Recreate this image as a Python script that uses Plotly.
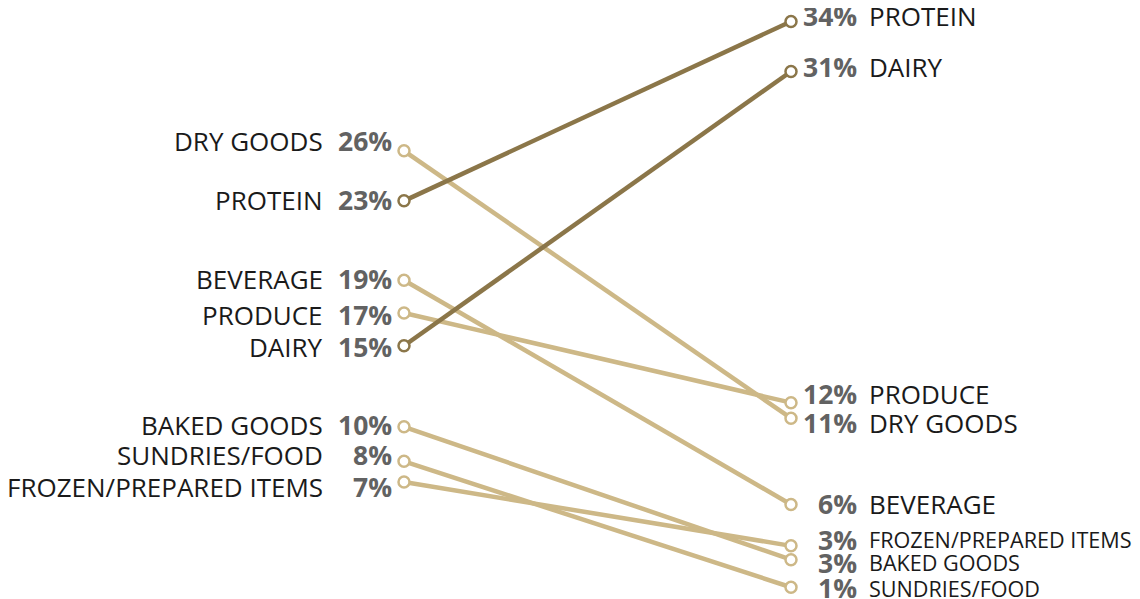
import plotly.graph_objects as go

# ---- data ----
categories = ["DRY GOODS", "PROTEIN", "BEVERAGE", "PRODUCE", "DAIRY",
              "BAKED GOODS", "SUNDRIES/FOOD", "FROZEN/PREPARED ITEMS"]
before_pct = [26.3, 23.4, 18.8, 16.9, 15.0, 10.3, 8.3, 7.1]
after_pct = [10.8, 33.8, 5.8, 11.7, 30.9, 2.6, 1.0, 3.4]
highlight = ["PROTEIN", "DAIRY"]

# ---- styling / layout (pixel offsets for label collision avoidance) ----
DARK = "#8B7649"
LIGHT = "#CDB887"
NAME_COLOR = "#1a1a1a"
PCT_COLOR = "#626262"
FONT = "Open Sans"
left_label_shift = [10, 1, 1, -2, -1, 2, 6, -5]
right_label_shift = [-5, 5, 0, 9, 4, -3, -1, 6]
right_small = ["FROZEN/PREPARED ITEMS", "BAKED GOODS", "SUNDRIES/FOOD"]

PAGE_OFF = 8  # browser body margin
W, H = 1140 - PAGE_OFF, 599 - PAGE_OFF
fig = go.Figure()

order = [c for c in categories if c not in highlight] + [c for c in categories if c in highlight]
for c in order:
    i = categories.index(c)
    col = DARK if c in highlight else LIGHT
    fig.add_trace(go.Scatter(
        x=[0, 1], y=[before_pct[i], after_pct[i]],
        mode="lines+markers",
        line=dict(color=col, width=4.5),
        marker=dict(size=11, color="white", line=dict(color=col, width=2.5)),
        hoverinfo="skip", showlegend=False,
    ))

NAME_SIZE = 26
PCT_SIZE = 26.5
SMALL_SIZE = 21.6

ann = []
for i, c in enumerate(categories):
    # left side
    ann.append(dict(x=0, y=before_pct[i], xref="x", yref="y", text=c,
                    showarrow=False, xanchor="right", yanchor="middle",
                    xshift=-79, yshift=left_label_shift[i],
                    font=dict(family=FONT, size=NAME_SIZE, color=NAME_COLOR)))
    ann.append(dict(x=0, y=before_pct[i], xref="x", yref="y",
                    text=f"<b>{round(before_pct[i])}%</b>",
                    showarrow=False, xanchor="right", yanchor="middle",
                    xshift=-10, yshift=left_label_shift[i],
                    font=dict(family=FONT, size=PCT_SIZE, color=PCT_COLOR)))
    # right side
    small = c in right_small
    ann.append(dict(x=1, y=after_pct[i], xref="x", yref="y",
                    text=f"<b>{round(after_pct[i])}%</b>",
                    showarrow=False, xanchor="right", yanchor="middle",
                    xshift=68, yshift=right_label_shift[i],
                    font=dict(family=FONT, size=PCT_SIZE, color=PCT_COLOR)))
    ann.append(dict(x=1, y=after_pct[i], xref="x", yref="y", text=c,
                    showarrow=False, xanchor="left", yanchor="middle",
                    xshift=76, yshift=right_label_shift[i],
                    font=dict(family=FONT, size=SMALL_SIZE if small else NAME_SIZE,
                              color=NAME_COLOR)))

x_left_px, x_right_px = 404 - PAGE_OFF, 791 - PAGE_OFF
span = x_right_px - x_left_px
xmin = -x_left_px / span
xmax = xmin + W / span

k = 17.25                 # px per percentage point
y0_px = 604.5 - PAGE_OFF  # pixel of 0 %
ymax = y0_px / k
ymin = ymax - H / k

fig.update_layout(
    width=W, height=H,
    margin=dict(l=0, r=0, t=0, b=0),
    paper_bgcolor="white", plot_bgcolor="white",
    xaxis=dict(range=[xmin, xmax], visible=False, fixedrange=True),
    yaxis=dict(range=[ymin, ymax], visible=False, fixedrange=True),
    annotations=ann,
)
fig.write_html("out.html")
